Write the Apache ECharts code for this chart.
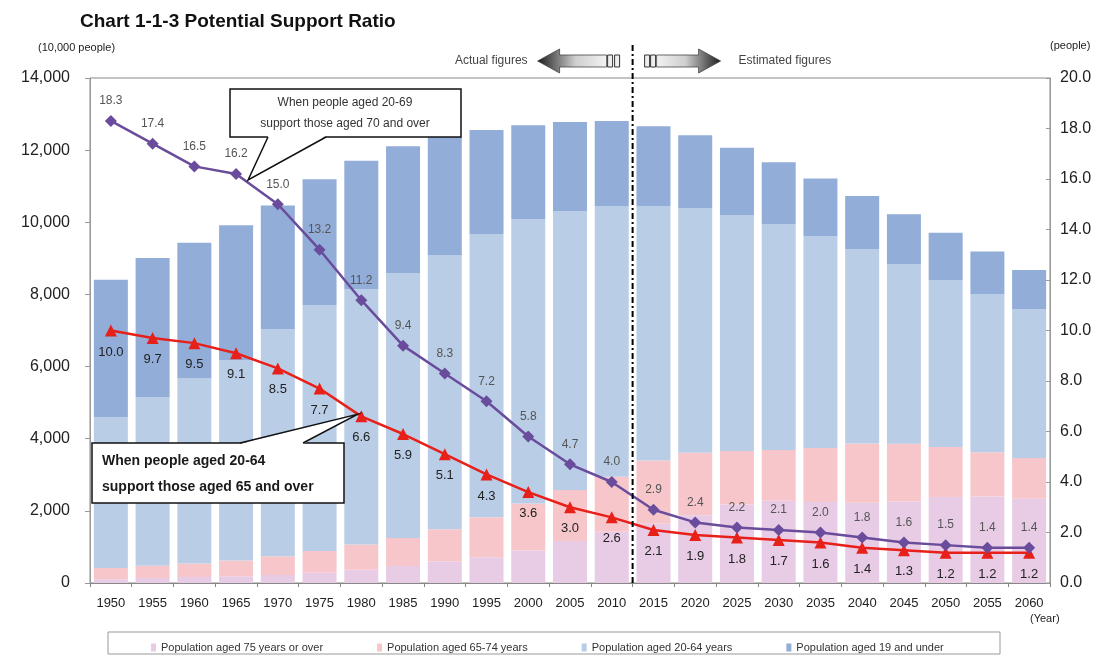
<!DOCTYPE html>
<html><head><meta charset="utf-8">
<script src="https://cdn.jsdelivr.net/npm/echarts@6/dist/echarts.min.js"></script>
<style>html,body{margin:0;padding:0;background:#fff}#c{width:1107px;height:657px}</style>
</head><body><div id="c"></div>
<script>
// ---- data ----
const years = ['1950','1955','1960','1965','1970','1975','1980','1985','1990','1995','2000','2005','2010','2015','2020','2025','2030','2035','2040','2045','2050','2055','2060'];
const pop75over = [106,139,164,189,224,284,366,471,597,717,901,1164,1419,1646,1879,2179,2278,2245,2223,2257,2385,2401,2336];
const pop65to74 = [309,340,376,435,516,603,699,776,892,1109,1301,1412,1528,1749,1733,1479,1407,1496,1645,1600,1383,1225,1128];
const pop20to64 = [4184,4678,5143,5558,6303,6820,7085,7347,7604,7850,7888,7737,7504,7057,6784,6545,6268,5879,5392,4988,4632,4386,4132];
const pop19under = [3811,3851,3747,3739,3425,3487,3556,3511,3268,2881,2601,2464,2354,2208,2014,1864,1709,1592,1468,1377,1308,1181,1078];
const ratio20to64per65 = [10.0,9.7,9.5,9.1,8.5,7.7,6.6,5.9,5.1,4.3,3.6,3.0,2.6,2.1,1.9,1.8,1.7,1.6,1.4,1.3,1.2,1.2,1.2];
const ratio20to69per70 = [18.3,17.4,16.5,16.2,15.0,13.2,11.2,9.4,8.3,7.2,5.8,4.7,4.0,2.9,2.4,2.2,2.1,2.0,1.8,1.6,1.5,1.4,1.4];
const leftTicks = {min:0, max:14000, interval:2000};
const rightTicks = {min:0, max:20, interval:2};
const seriesNames = ['Population aged 75 years or over','Population aged 65-74 years','Population aged 20-64 years','Population aged 19 and under'];

const FONT = '"Liberation Sans", Arial, sans-serif';
const chart = echarts.init(document.getElementById('c'));
const barColors = ['#e8cbe5','#f7c6cb','#bacde6','#92add8'];
const barSeries = [pop75over,pop65to74,pop20to64,pop19under].map((d,i)=>({
  name: seriesNames[i], type:'bar', stack:'pop', barWidth:34, data:d,
  itemStyle:{color:barColors[i]}, emphasis:{disabled:true}, z:2
}));

chart.setOption({
  animation:false,
  backgroundColor:'#fff',
  textStyle:{fontFamily:FONT},
  title:{text:'Chart 1-1-3 Potential Support Ratio', left:75, top:7,
    textStyle:{fontSize:19, fontWeight:'bold', color:'#111', fontFamily:FONT}},
  grid:{left:90, right:57, top:78, bottom:74, show:true, borderColor:'#888', borderWidth:1},
  legend:{data:seriesNames, left:146, top:637, itemWidth:5, itemHeight:8, itemGap:54,
    icon:'rect', textStyle:{fontSize:11, color:'#333', fontFamily:FONT}},
  xAxis:{type:'category', data:years,
    axisLine:{lineStyle:{color:'#888'}}, axisTick:{show:true, length:4, lineStyle:{color:'#888'}},
    axisLabel:{fontSize:13, color:'#222', margin:14, interval:0}},
  yAxis:[
    {type:'value', min:leftTicks.min, max:leftTicks.max, interval:leftTicks.interval,
     splitLine:{show:false}, axisLine:{show:true, lineStyle:{color:'#999'}},
     axisTick:{show:true, length:5, lineStyle:{color:'#999'}},
     axisLabel:{fontSize:16, color:'#222', margin:20,
       formatter:v=>v.toLocaleString('en-US')}},
    {type:'value', min:rightTicks.min, max:rightTicks.max, interval:rightTicks.interval,
     splitLine:{show:false}, axisLine:{show:true, lineStyle:{color:'#999'}},
     axisTick:{show:true, inside:true, length:4, lineStyle:{color:'#999'}},
     axisLabel:{fontSize:16, color:'#222', margin:10, formatter:v=>v.toFixed(1)}}
  ],
  series:[...barSeries,
    {name:'r65', type:'line', yAxisIndex:1, data:ratio20to64per65, z:5,
     symbol:'triangle', symbolSize:12, lineStyle:{color:'#e8201a', width:2.5},
     itemStyle:{color:'#e8201a'},
     label:{show:true, position:'bottom', distance:9, fontSize:13, color:'#222',
       formatter:p=>p.value.toFixed(1)}},
    {name:'r70', type:'line', yAxisIndex:1, data:ratio20to69per70, z:5,
     symbol:'diamond', symbolSize:12, lineStyle:{color:'#6a4c9c', width:2.5},
     itemStyle:{color:'#6a4c9c'},
     label:{show:true, position:'top', distance:8, fontSize:12, color:'#555',
       formatter:p=>p.value.toFixed(1)}}
  ]
});

// ---- annotations positioned via the chart's scales ----
const xa = chart.convertToPixel({xAxisIndex:0}, '2010');
const xb = chart.convertToPixel({xAxisIndex:0}, '2015');
const xd = (xa + xb) / 2;
const y0 = chart.convertToPixel({yAxisIndex:0}, 0);
const p1965 = chart.convertToPixel({seriesIndex:5}, ['1965', ratio20to69per70[3]]);
const p1980 = chart.convertToPixel({seriesIndex:4}, ['1980', ratio20to64per65[6]]);

const grad = (dir)=> new echarts.graphic.LinearGradient(dir?0:1,0,dir?1:0,0,[
  {offset:0,color:'#1a1a1a'},{offset:0.55,color:'#cfcfcf'},{offset:1,color:'#f2f2f2'}]);

const g = [];
g.push({type:'line', shape:{x1:xd,y1:45,x2:xd,y2:y0}, z:50,
  style:{stroke:'#000', lineWidth:2, lineDash:[6,3,2,3]}});
// left arrow (actual)
g.push({type:'polygon', z:50, shape:{points:[[xd-95,61],[xd-73,49],[xd-73,55],[xd-26,55],[xd-26,67],[xd-73,67],[xd-73,73]]},
  style:{fill:grad(true), stroke:'#444', lineWidth:0.8}});
g.push({type:'rect', z:50, shape:{x:xd-25,y:55,width:5,height:12}, style:{fill:'#eee',stroke:'#333',lineWidth:1}});
g.push({type:'rect', z:50, shape:{x:xd-18,y:55,width:5,height:12}, style:{fill:'#eee',stroke:'#333',lineWidth:1}});
// right arrow (estimated)
g.push({type:'polygon', z:50, shape:{points:[[xd+88,61],[xd+66,49],[xd+66,55],[xd+24,55],[xd+24,67],[xd+66,67],[xd+66,73]]},
  style:{fill:grad(false), stroke:'#444', lineWidth:0.8}});
g.push({type:'rect', z:50, shape:{x:xd+12,y:55,width:5,height:12}, style:{fill:'#eee',stroke:'#333',lineWidth:1}});
g.push({type:'rect', z:50, shape:{x:xd+18,y:55,width:5,height:12}, style:{fill:'#eee',stroke:'#333',lineWidth:1}});
g.push({type:'text', z:50, style:{text:'Actual figures', x:xd-105, y:61, align:'right', verticalAlign:'middle',
  fontSize:12, fill:'#444', fontFamily:FONT}});
g.push({type:'text', z:50, style:{text:'Estimated figures', x:xd+106, y:61, align:'left', verticalAlign:'middle',
  fontSize:12, fill:'#444', fontFamily:FONT}});

// units
g.push({type:'text', style:{text:'(10,000 people)', x:38, y:48, verticalAlign:'middle', fontSize:11, fill:'#222', fontFamily:FONT}});
g.push({type:'text', style:{text:'(people)', x:1050, y:46, verticalAlign:'middle', fontSize:11, fill:'#222', fontFamily:FONT}});
g.push({type:'text', style:{text:'(Year)', x:1030, y:619, verticalAlign:'middle', fontSize:11, fill:'#222', fontFamily:FONT}});

// callout 1 (purple)
const t1 = [p1965[0]+12, p1965[1]+6];
g.push({type:'rect', z:60, shape:{x:230,y:89,width:231,height:48}, style:{fill:'#fff',stroke:'#111',lineWidth:1.5}});
g.push({type:'polygon', z:61, shape:{points:[[268,136],[t1[0],t1[1]],[326,136]]}, style:{fill:'#fff'}});
g.push({type:'polyline', z:62, shape:{points:[[268,137],[t1[0],t1[1]],[326,137]]}, style:{fill:null,stroke:'#111',lineWidth:1.5}});
g.push({type:'text', z:63, style:{text:'When people aged 20-69\nsupport those aged 70 and over', x:345, y:113,
  align:'center', verticalAlign:'middle', lineHeight:21, fontSize:12, fill:'#333', fontFamily:FONT}});

// callout 2 (red)
const t2 = [p1980[0]-4, p1980[1]-2];
g.push({type:'rect', z:60, shape:{x:92,y:443,width:252,height:60}, style:{fill:'#fff',stroke:'#111',lineWidth:1.5}});
g.push({type:'polygon', z:61, shape:{points:[[240,444],[t2[0],t2[1]],[303,444]]}, style:{fill:'#fff'}});
g.push({type:'polyline', z:62, shape:{points:[[240,443],[t2[0],t2[1]],[303,443]]}, style:{fill:null,stroke:'#111',lineWidth:1.5}});
g.push({type:'text', z:63, style:{text:'When people aged 20-64\nsupport those aged 65 and over', x:102, y:474,
  align:'left', verticalAlign:'middle', lineHeight:26, fontSize:14, fontWeight:'bold', fill:'#1a1a1a', fontFamily:FONT}});

// legend box
g.push({type:'rect', z:1, shape:{x:108,y:632,width:892,height:22}, style:{fill:'none',stroke:'#999',lineWidth:1}});

chart.setOption({graphic:{elements:g}});
</script>
</body></html>
